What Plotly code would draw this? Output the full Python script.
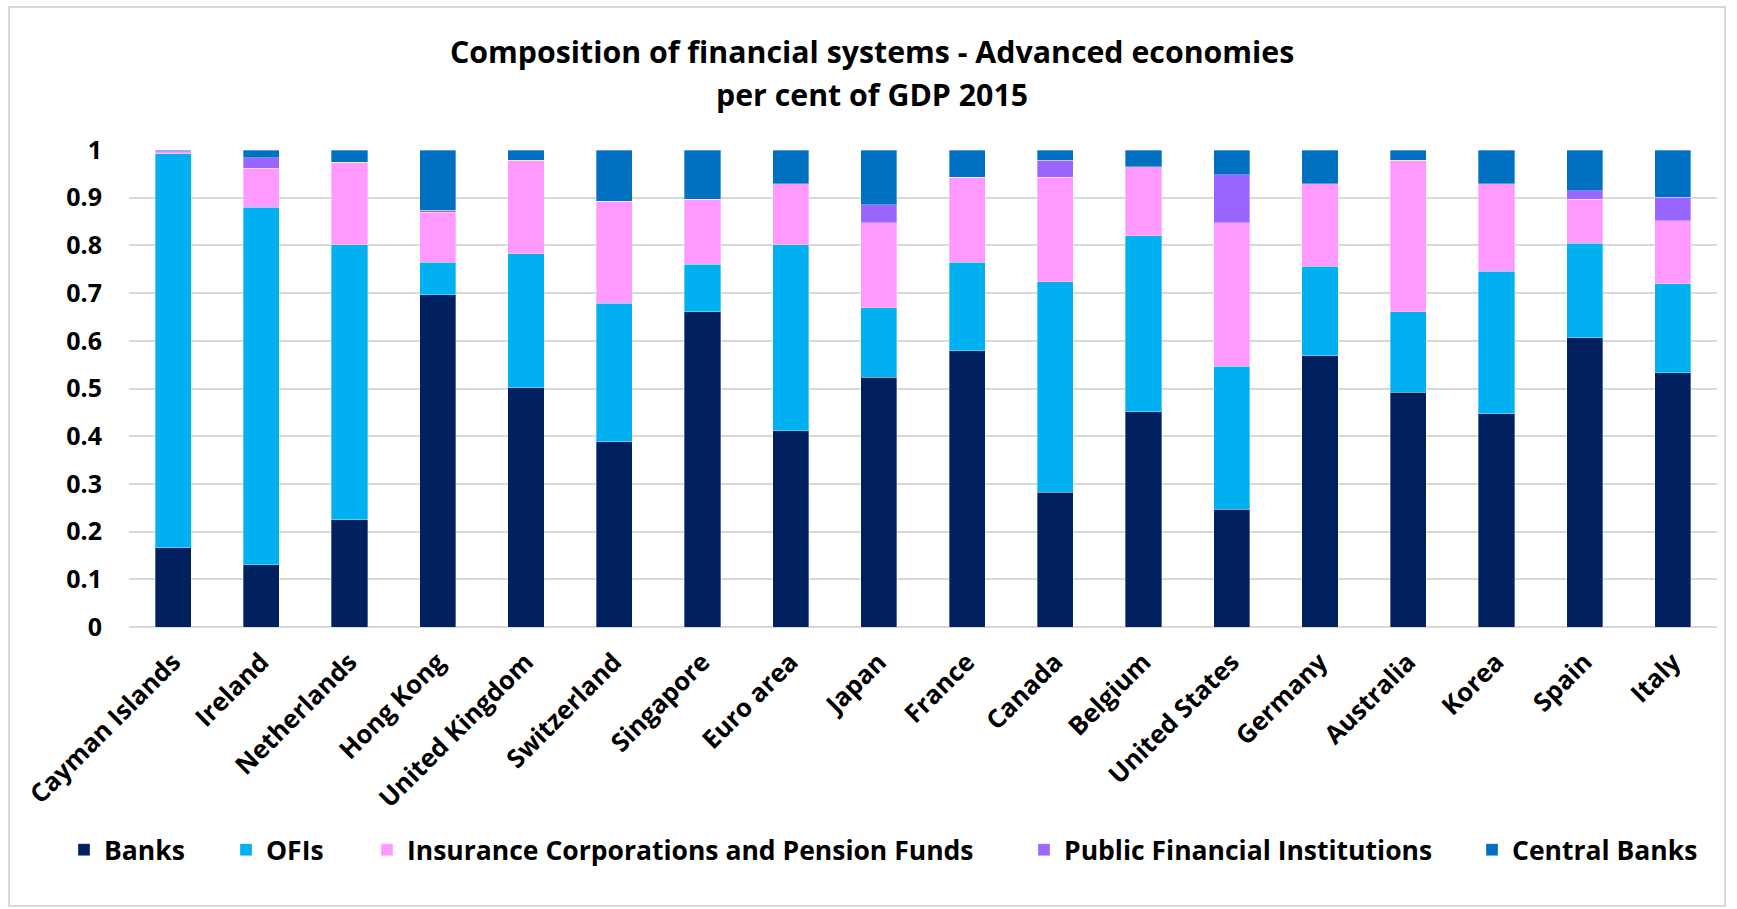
import plotly.graph_objects as go

# Countries / economies in display order
countries = [
    "Cayman Islands", "Ireland", "Netherlands", "Hong Kong", "United Kingdom",
    "Switzerland", "Singapore", "Euro area", "Japan", "France", "Canada",
    "Belgium", "United States", "Germany", "Australia", "Korea", "Spain", "Italy",
]

# Share of total financial assets by sector (fractions, 2015)
banks = [0.166, 0.130, 0.225, 0.697, 0.502, 0.388, 0.661, 0.411, 0.524, 0.579,
         0.283, 0.451, 0.247, 0.569, 0.492, 0.447, 0.606, 0.533]
ofis = [0.826, 0.750, 0.576, 0.068, 0.281, 0.291, 0.100, 0.390, 0.145, 0.186,
        0.441, 0.369, 0.300, 0.187, 0.169, 0.299, 0.199, 0.187]
insurance = [0.004, 0.082, 0.173, 0.105, 0.196, 0.214, 0.136, 0.128, 0.178, 0.178,
             0.219, 0.145, 0.300, 0.173, 0.318, 0.183, 0.092, 0.132]
public_fi = [0.002, 0.022, 0.000, 0.004, 0.000, 0.000, 0.000, 0.000, 0.038, 0.000,
             0.036, 0.000, 0.101, 0.000, 0.000, 0.000, 0.018, 0.049]
central_banks = [0.002, 0.016, 0.026, 0.126, 0.021, 0.107, 0.103, 0.071, 0.115, 0.057,
                 0.021, 0.035, 0.052, 0.071, 0.021, 0.071, 0.085, 0.099]

y_ticks = [0, 0.1, 0.2, 0.3, 0.4, 0.5, 0.6, 0.7, 0.8, 0.9, 1]
y_tick_text = ["0", "0.1", "0.2", "0.3", "0.4", "0.5", "0.6", "0.7", "0.8", "0.9", "1"]

series = [
    ("Banks", banks, "#002060"),
    ("OFIs", ofis, "#00B0F0"),
    ("Insurance Corporations and Pension Funds", insurance, "#FF99FF"),
    ("Public Financial Institutions", public_fi, "#9966FF"),
    ("Central Banks", central_banks, "#0070C0"),
]

W, H = 1737, 909
FONT = "Open Sans"

# one legend per series so every entry sits at its own position
legend_left_px = [64, 226, 367, 1024, 1472]

fig = go.Figure()
for i, (name, vals, color) in enumerate(series):
    lg = "legend" if i == 0 else f"legend{i + 1}"
    fig.add_trace(go.Bar(
        x=countries, y=vals, name=name,
        marker=dict(color=color, line=dict(color="rgba(255,255,255,0.55)", width=0.6)),
        legend=lg,
    ))

legend_font = dict(family=FONT, size=26.5, color="#000000", weight="bold")
legend_layout = {}
for i, px in enumerate(legend_left_px):
    key = "legend" if i == 0 else f"legend{i + 1}"
    legend_layout[key] = dict(
        x=px / W, xanchor="left", y=1 - 850 / H, yanchor="middle",
        orientation="h", font=legend_font, bgcolor="rgba(0,0,0,0)",
        borderwidth=0, itemclick=False, itemdoubleclick=False,
    )

title_font = dict(family=FONT, size=30.3, color="#000000", weight="bold")

fig.update_layout(
    width=W, height=H,
    margin=dict(l=0, r=0, t=0, b=0),
    paper_bgcolor="white", plot_bgcolor="white",
    barmode="stack", bargap=0.59,
    showlegend=True,
    xaxis=dict(
        domain=[129 / W, 1717 / W],
        tickangle=-45,
        tickfont=dict(family=FONT, size=25.5, color="#000000", weight="bold"),
        ticklabelstandoff=14,
        showgrid=False, showline=False, zeroline=False, ticks="",
        automargin=False, fixedrange=True,
    ),
    yaxis=dict(
        domain=[1 - 627 / H, 1 - 150 / H],
        range=[0, 1],
        tickvals=y_ticks, ticktext=y_tick_text,
        tickfont=dict(family=FONT, size=25, color="#000000", weight="bold"),
        ticklabelstandoff=26,
        showgrid=True, gridcolor="#D9D9D9", gridwidth=1.5,
        zeroline=True, zerolinecolor="#D9D9D9", zerolinewidth=1.5,
        showline=False, ticks="",
        automargin=False, fixedrange=True,
    ),
    annotations=[
        dict(text="Composition of financial systems - Advanced economies",
             x=872 / W, y=1 - 52 / H, xref="paper", yref="paper",
             xanchor="center", yanchor="middle", showarrow=False,
             font=title_font),
        dict(text="per cent of GDP 2015",
             x=872 / W, y=1 - 94 / H, xref="paper", yref="paper",
             xanchor="center", yanchor="middle", showarrow=False,
             font=title_font),
    ],
    shapes=[
        dict(type="rect", xref="paper", yref="paper",
             x0=9 / W, x1=1725 / W, y0=1 - 906 / H, y1=1 - 7 / H,
             line=dict(color="#D9D9D9", width=2), fillcolor="rgba(0,0,0,0)",
             layer="below"),
    ],
    **legend_layout,
)

fig.write_html("out.html")
